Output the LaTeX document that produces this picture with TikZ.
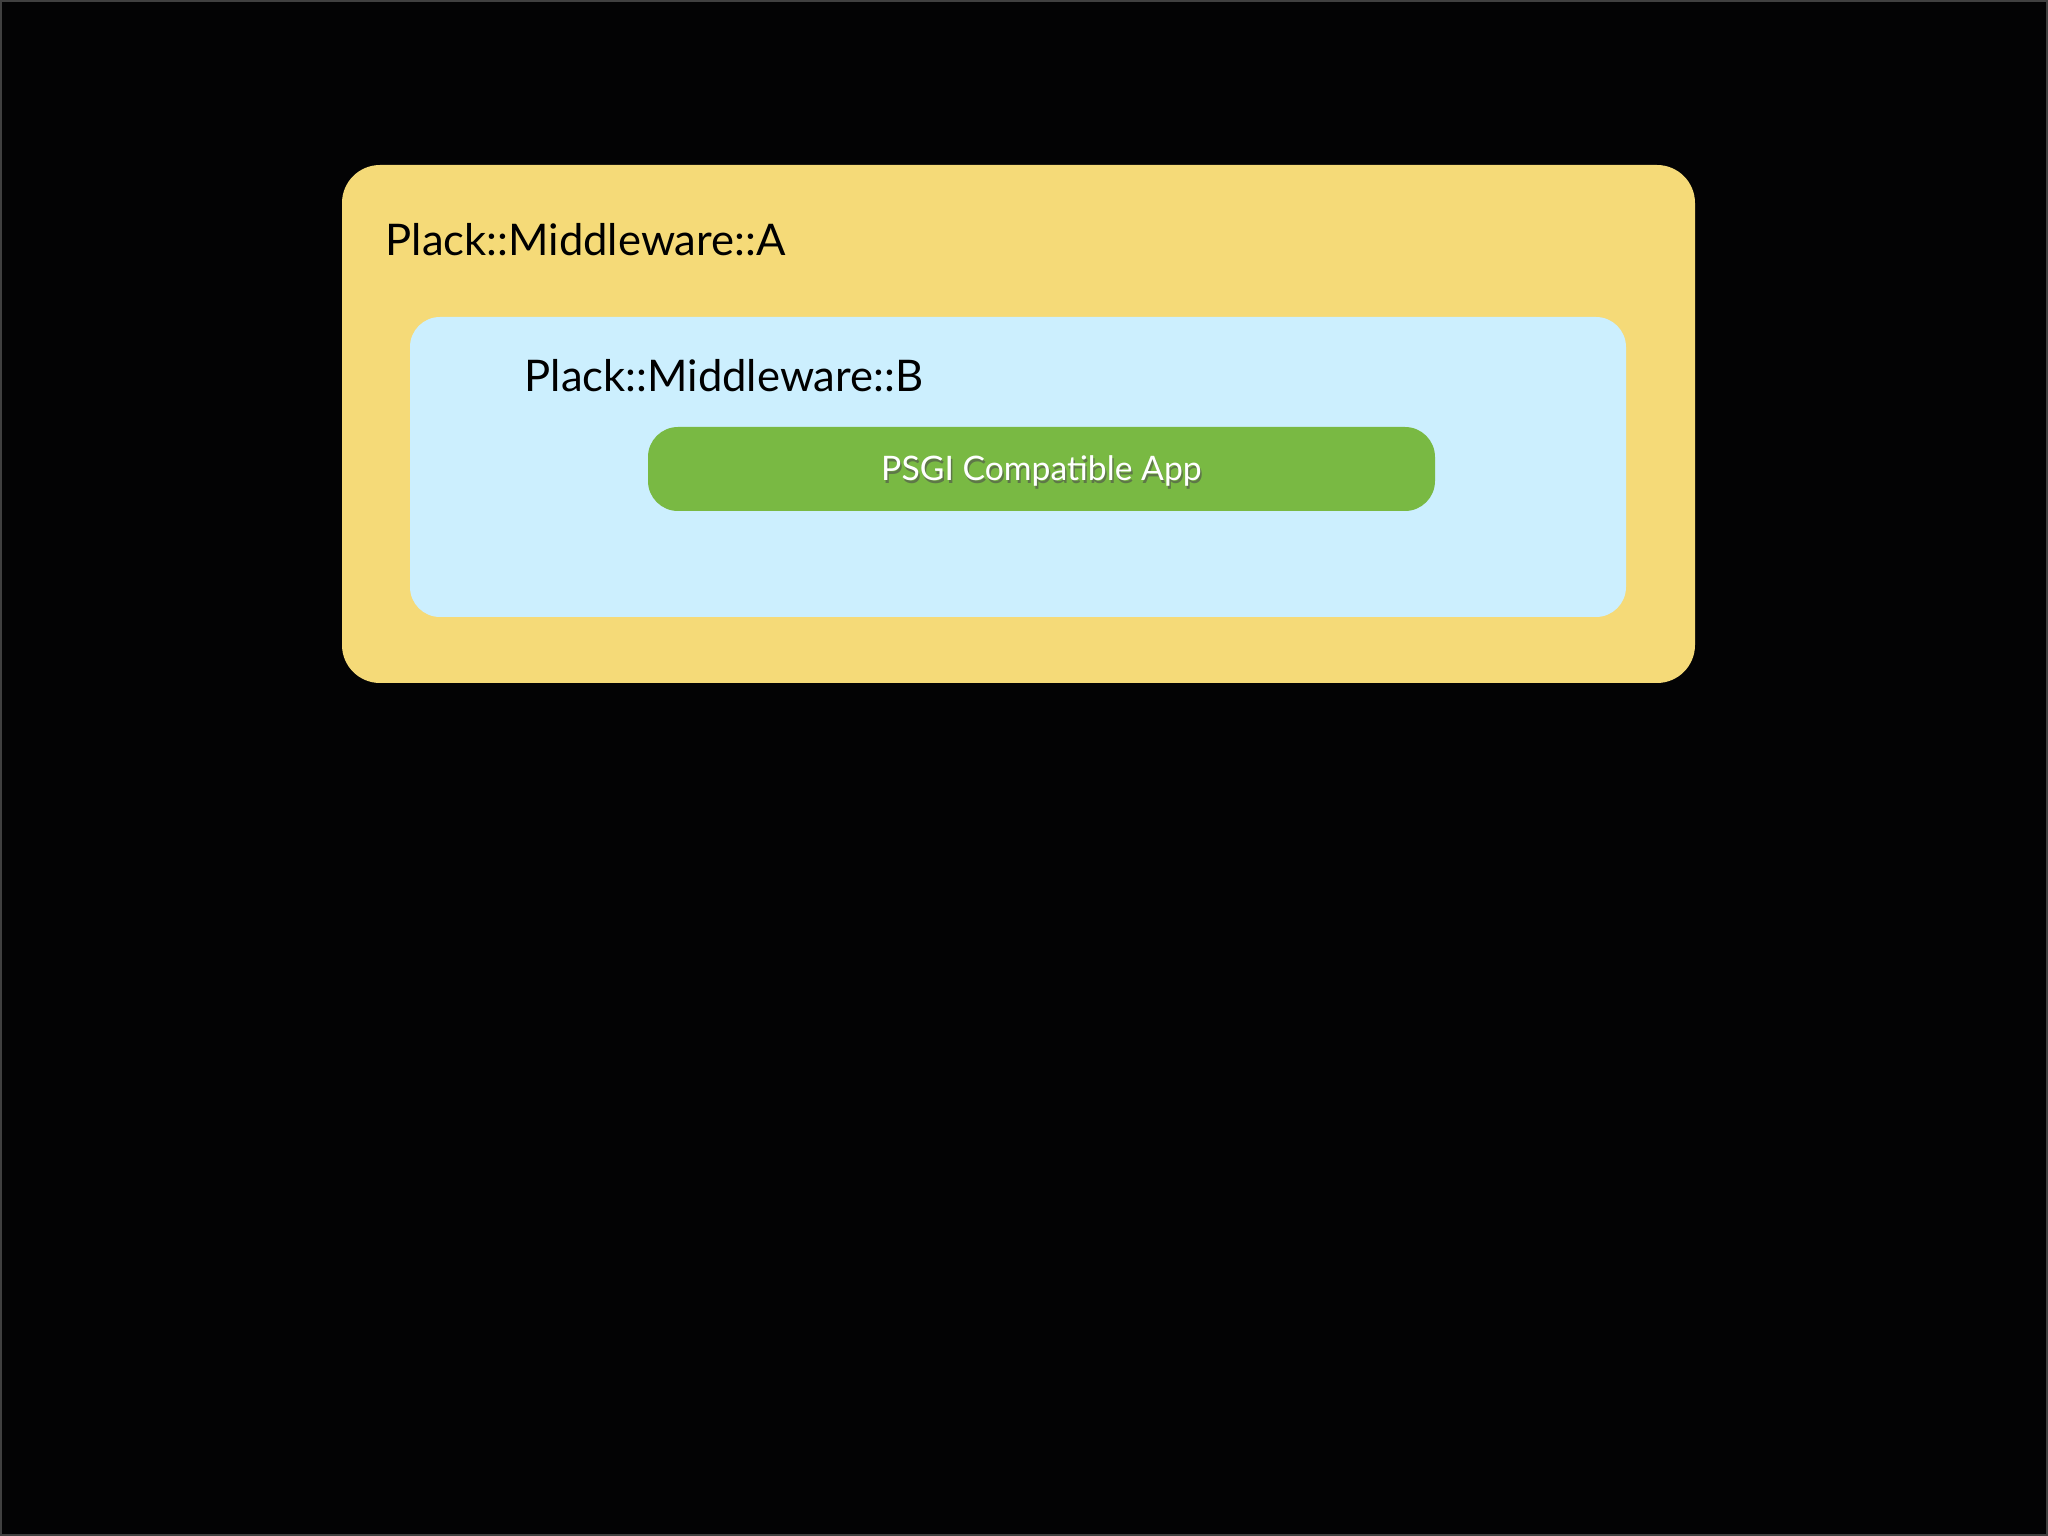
\documentclass[tikz,border=0pt]{standalone}
\usepackage{fontspec}
\setmainfont{Lato}
\usepackage{xcolor}
\usepackage{tikz}
\usetikzlibrary{positioning,calc}

\definecolor{slidebg}{HTML}{030304}
\definecolor{paperyellow}{HTML}{F5DA78}
\definecolor{paleblue}{HTML}{CCEFFE}
\definecolor{appgreen}{HTML}{79B943}

\tikzset{
    layerbox/.style={rounded corners=0.38cm, inner sep=0pt},
    layerlabel/.style={anchor=base west, inner sep=0pt, font=\fontsize{12.4}{14}\selectfont, text=black},
    applabel/.style={anchor=base, inner sep=0pt, font=\fontsize{9.6}{11}\selectfont, text=white}
}

\begin{document}
\begin{tikzpicture}
    % Slide
    \fill [slidebg] (0,0) rectangle (20.48,-15.36);
    \draw [black!75, line width=0.5pt] (0.01,-0.01) rectangle (20.47,-15.35);
    \useasboundingbox (0,0) rectangle (20.48,-15.36);

    % Outer middleware
    \node [layerbox, fill=paperyellow, minimum width=13.53cm, minimum height=5.18cm] (mwA) at (10.185,-4.24) {};
    \node [layerlabel] (mwAlabel) at (3.85,-2.56) {Plack::Middleware::A};

    % Inner middleware
    \node [layerbox, rounded corners=0.3cm, fill=paleblue, minimum width=12.16cm, minimum height=3.00cm] (mwB) at (10.18,-4.67) {};
    \node [layerlabel] (mwBlabel) at (5.24,-3.92) {Plack::Middleware::B};

    % The app
    \node [layerbox, rounded corners=0.3cm, fill=appgreen, minimum width=7.87cm, minimum height=0.84cm] (app) at (10.415,-4.69) {};
    \node [applabel, text=black!70, opacity=0.6] (appshadow) at (10.43,-4.835) {PSGI Compatible App};
    \node [applabel] (applabel) at (10.415,-4.81) {PSGI Compatible App};
\end{tikzpicture}
\end{document}
